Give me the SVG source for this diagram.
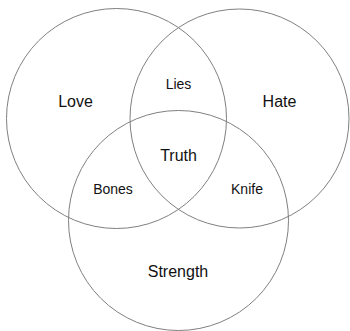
<svg xmlns="http://www.w3.org/2000/svg" width="350" height="331" viewBox="0 0 350 331">
<style>
.c{fill:none;stroke:#808080;stroke-width:1}
.t{font-family:"Liberation Sans",Arial,sans-serif;fill:#111;text-anchor:middle}
.l{font-size:16px}
.s{font-size:14px}
</style>
<rect width="350" height="331" fill="#fff"/>
<g id="love"><circle class="c" cx="116.5" cy="118.5" r="110"/><text class="t l" x="75.5" y="107">Love</text></g>
<g id="hate"><circle class="c" cx="239.5" cy="118.5" r="109.5"/><text class="t l" x="279.5" y="107">Hate</text></g>
<g id="strength"><circle class="c" cx="178.5" cy="220.5" r="110"/><text class="t l" x="178" y="277">Strength</text></g>
<g id="lies"><text class="t s" x="178.5" y="89">Lies</text></g>
<g id="truth"><text class="t l" x="178.5" y="161">Truth</text></g>
<g id="bones"><text class="t s" x="113" y="194">Bones</text></g>
<g id="knife"><text class="t s" x="247" y="194">Knife</text></g>
<g id="connectors"></g>
</svg>
